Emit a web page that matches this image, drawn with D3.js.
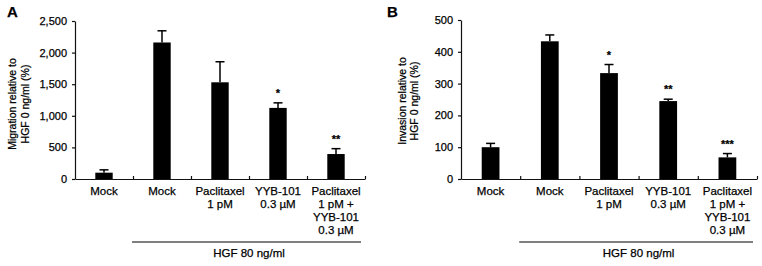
<!DOCTYPE html>
<head>
    <meta charset="utf-8">
    <title>Migration and invasion</title>
    <style>
        body { margin: 0; background: #fff; }
        text { font-family: Arial, "Liberation Sans", sans-serif; fill: #000; stroke: #000; stroke-width: 0.25; }
        .axis path, .axis line { stroke: #111; stroke-width: 1.2; }
        .axis text { font-size: 11px; }
    </style>
</head>

<body>

<svg width="762" height="266"></svg>

<script src="https://cdn.jsdelivr.net/npm/d3@7"></script>

<script>
    const categories = [
        ["Mock"],
        ["Mock"],
        ["Paclitaxel", "1 pM"],
        ["YYB-101", "0.3 µM"],
        ["Paclitaxel", "1 pM +", "YYB-101", "0.3 µM"]
    ];

    // panel A: migration
    const migrationMean = [100, 2160, 1530, 1125, 395];
    const migrationErr = [45, 185, 325, 80, 85];
    const migrationSig = ["", "", "", "*", "**"];
    const migrationTicks = [0, 500, 1000, 1500, 2000, 2500];

    // panel B: invasion
    const invasionMean = [100, 433, 333, 245, 68];
    const invasionErr = [12, 20, 27, 6, 12];
    const invasionSig = ["", "", "*", "**", "***"];
    const invasionTicks = [0, 100, 200, 300, 400, 500];

    const groupLabel = "HGF 80 ng/ml";

    const svg = d3.select("svg");

    drawPanel({
        letter: "A", letterX: 7,
        title: ["Migration relative to", "HGF 0 ng/ml (%)"], titleX: [16, 29], titleY: 104,
        left: 75, right: 365, top: 21, bottom: 179,
        mean: migrationMean, err: migrationErr, sig: migrationSig, ticks: migrationTicks
    });

    drawPanel({
        letter: "B", letterX: 387,
        title: ["Invasion relative to", "HGF 0 ng/ml (%)"], titleX: [406, 418], titleY: 101,
        left: 461, right: 757, top: 20, bottom: 179,
        mean: invasionMean, err: invasionErr, sig: invasionSig, ticks: invasionTicks
    });

    function drawPanel(p) {
        const g = svg.append("g");
        const idx = d3.range(categories.length);

        const x = d3.scaleBand().domain(idx).range([p.left, p.right])
            .paddingInner(0.7).paddingOuter(0.35);
        const y = d3.scaleLinear().domain([0, d3.max(p.ticks)]).range([p.bottom, p.top]);
        const step = x.step();

        // bars
        g.selectAll(".bar").data(idx).enter().append("rect")
            .attr("x", i => x(i))
            .attr("width", x.bandwidth())
            .attr("y", i => y(p.mean[i]))
            .attr("height", i => y(0) - y(p.mean[i]))
            .attr("fill", "#000");

        // error bars
        const cx = i => x(i) + x.bandwidth() / 2;
        g.selectAll(".err").data(idx).enter().append("line")
            .attr("x1", cx).attr("x2", cx)
            .attr("y1", i => y(p.mean[i]))
            .attr("y2", i => y(p.mean[i] + p.err[i]))
            .attr("stroke", "#000").attr("stroke-width", 1.5);
        g.selectAll(".cap").data(idx).enter().append("line")
            .attr("x1", i => cx(i) - 4.5).attr("x2", i => cx(i) + 4.5)
            .attr("y1", i => y(p.mean[i] + p.err[i]))
            .attr("y2", i => y(p.mean[i] + p.err[i]))
            .attr("stroke", "#000").attr("stroke-width", 1.5);

        // significance marks
        g.selectAll(".sig").data(idx).enter().append("text")
            .attr("x", cx)
            .attr("y", i => y(p.mean[i] + p.err[i]) - 6)
            .attr("text-anchor", "middle")
            .style("font-size", "11px")
            .style("font-weight", "bold")
            .text(i => p.sig[i]);

        // y axis
        g.append("g")
            .attr("class", "axis")
            .attr("transform", `translate(${p.left},0)`)
            .call(d3.axisLeft(y).tickValues(p.ticks).tickFormat(d3.format(","))
                .tickSize(3).tickSizeOuter(0).tickPadding(5));

        // x axis with ticks on category boundaries
        const xb = d3.scaleLinear().domain([0, categories.length]).range([p.left, p.right]);
        g.append("g")
            .attr("class", "axis")
            .attr("transform", `translate(0,${p.bottom})`)
            .call(d3.axisBottom(xb).tickValues(d3.range(1, categories.length + 1))
                .tickFormat("").tickSize(-3).tickSizeOuter(0));

        // category labels
        const lab = g.selectAll(".cat").data(idx).enter().append("text")
            .attr("text-anchor", "middle")
            .style("font-size", "11.5px");
        lab.selectAll("tspan").data(i => categories[i].map(t => ({ t, i }))).enter().append("tspan")
            .attr("x", d => cx(d.i))
            .attr("y", (d, j) => 195 + j * 13)
            .text(d => d.t);

        // HGF group bracket
        const gx0 = p.left + step, gx1 = p.right;
        g.append("line")
            .attr("x1", gx0 - 1).attr("x2", gx1 - 4)
            .attr("y1", 242).attr("y2", 242)
            .attr("stroke", "#000").attr("stroke-width", 1.2);
        g.append("text")
            .attr("x", (gx0 + gx1) / 2)
            .attr("y", 257)
            .attr("text-anchor", "middle")
            .style("font-size", "11.5px")
            .text(groupLabel);

        // y title
        g.selectAll(".ytitle").data(p.title).enter().append("text")
            .attr("transform", (d, j) => `translate(${p.titleX[j]},${p.titleY}) rotate(-90)`)
            .attr("text-anchor", "middle")
            .style("font-size", "10.5px")
            .text(d => d);

        // panel letter
        g.append("text")
            .attr("x", p.letterX)
            .attr("y", 17)
            .style("font-size", "15px")
            .style("font-weight", "bold")
            .text(p.letter);
    }
</script>

</body>
